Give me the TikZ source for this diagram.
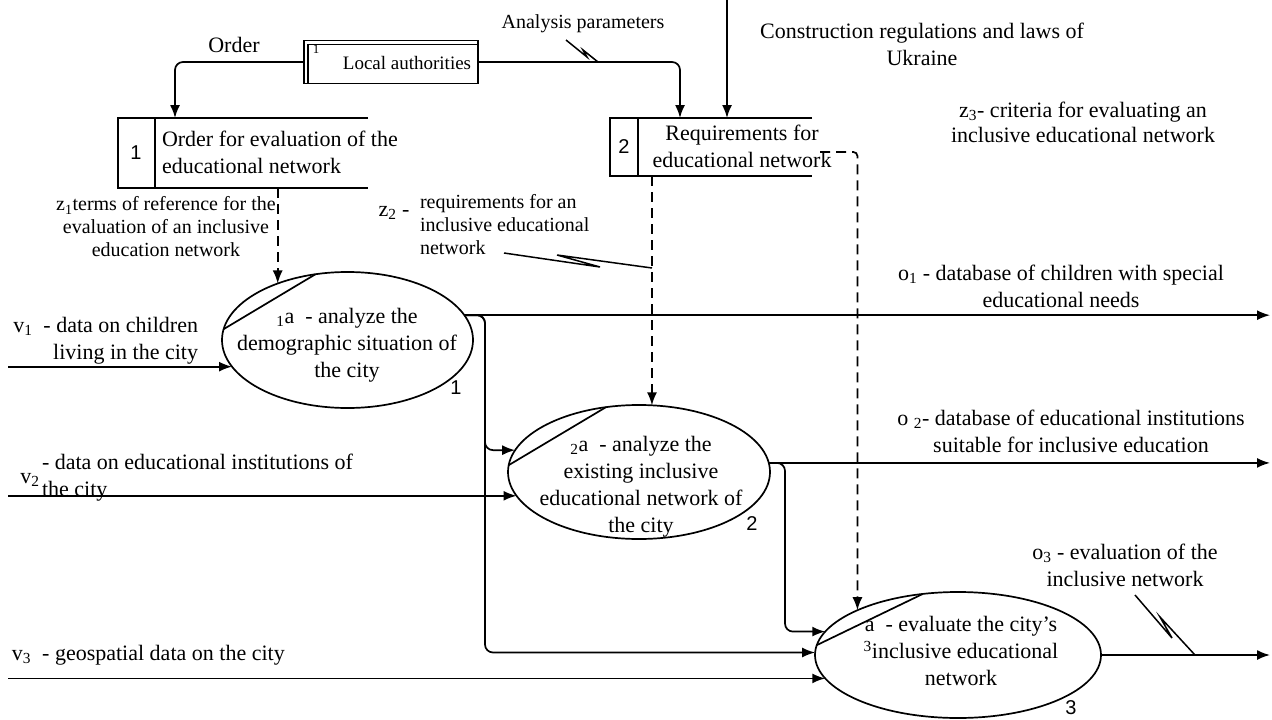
\documentclass[tikz,border=0pt]{standalone}
\usepackage{fontspec}
\setmainfont{Liberation Serif}
\newfontfamily\numfont{Liberation Sans}
\usetikzlibrary{
    arrows.meta,
    positioning,
    calc,
    shapes.geometric
}

\begin{document}
\begin{tikzpicture}[
        x=1pt, y=-1pt,
        every node/.style={inner sep=0pt, outer sep=0pt},
        txt/.style={font=\fontsize{22}{27}\selectfont, align=center},
        note/.style={font=\fontsize{20}{23}\selectfont, align=center},
        num/.style={font=\numfont\fontsize{20}{24}\selectfont},
        proc/.style={ellipse, draw, line width=1.7pt},
        store/.style={rectangle},
        edge/.style={line width=1.7pt},
        flow/.style={-{Latex[length=13pt,width=10pt]}, line width=1.7pt},
        dflow/.style={flow, dash pattern=on 10pt off 6pt},
        bolt/.style={line width=1.5pt, line join=miter}
    ]
        \fill[white] (0,0) rectangle (1272,720);
        \useasboundingbox (0,0) rectangle (1272,720);

        % external entity
        \node[draw, line width=1.7pt, minimum width=174pt, minimum height=43pt] (auth) at (391,62) {};
        \draw[edge] ([xshift=4pt]auth.south west) |- ([yshift=-4pt]auth.north east);
        \node[font=\fontsize{13}{15}\selectfont] (authno) at (316,49) {1};
        \node[note, font=\fontsize{19}{23}\selectfont] (authtxt) at (407,63) {Local authorities};

        % data stores
        \node[store, minimum width=250pt, minimum height=70pt] (st1) at (243,153) {};
        \draw[edge] (st1.north east) -- (st1.north west) -- (st1.south west) -- (st1.south east);
        \draw[edge] ([xshift=37pt]st1.north west) -- ([xshift=37pt]st1.south west);
        \node[num] (st1no) at (136,153) {1};
        \node[txt, align=left, anchor=west] (st1txt) at (162,152) {Order for evaluation of the\\educational network};

        \node[store, minimum width=202pt, minimum height=58pt] (st2) at (711,147) {};
        \draw[edge] (st2.north east) -- (st2.north west) -- (st2.south west) -- (st2.south east);
        \draw[edge] ([xshift=28pt]st2.north west) -- ([xshift=28pt]st2.south west);
        \node[num] (st2no) at (624,147) {2};
        \node[txt] (st2txt) at (742,146) {Requirements for\\educational network};

        % processes
        \node[proc, minimum width=251pt, minimum height=136pt] (p1) at (347.5,340) {};
        \node[proc, minimum width=262pt, minimum height=134pt] (p2) at (639,472) {};
        \node[proc, minimum width=286pt, minimum height=126pt] (p3) at (958,655) {};
        \draw[edge] (p1.175) -- (p1.116);
        \draw[edge] (p2.177) -- (p2.117);
        \draw[edge] (p3.176) -- (p3.120);
        \node[txt] (p1txt) at (347,345) {\textsubscript{1}a\ \ - analyze the\\demographic situation of\\the city};
        \node[txt] (p2txt) at (641,487) {\textsubscript{2}a\ \ - analyze the\\existing inclusive\\educational network of\\the city};
        \node[txt] (p3txt) at (961,651) {a\ \ - evaluate the city's\\\textsuperscript{3}inclusive educational\\network};
        \node[num] (p1no) at (456,388) {1};
        \node[num] (p2no) at (752,524) {2};
        \node[num] (p3no) at (1071,708) {3};

        % labels
        \node[txt] (order) at (234,45) {Order};
        \node[note] (apar) at (583,24) {Analysis parameters};
        \node[txt] (laws) at (922,44) {Construction regulations and laws of\\Ukraine};
        \node[txt, font=\fontsize{22}{25}\selectfont] (z3) at (1083,122) {z\textsubscript{3}- criteria for evaluating an\\inclusive educational network};
        \node[note] (z1) at (166,227) {z\textsubscript{1}terms of reference for the\\evaluation of an inclusive\\education network};
        \node[txt] (z2) at (394,213) {z\textsubscript{2} -};
        \node[note, align=left, anchor=west] (z2txt) at (420,225) {requirements for an\\inclusive educational\\network};
        \node[txt, align=right, anchor=east] (v1) at (198,341) {v\textsubscript{1}\ \ - data on children\\living in the city};
        \node[txt] (v2) at (30,480) {v\textsubscript{2}};
        \node[txt, align=left, anchor=west] (v2txt) at (42,478) {- data on educational institutions of\\the city};
        \node[txt, anchor=west] (v3) at (12,655) {v\textsubscript{3}\ \ - geospatial data on the city};
        \node[txt] (o1) at (1061,286) {o\textsubscript{1} - database of children with special\\educational needs};
        \node[txt] (o2) at (1071,431) {o \textsubscript{2}- database of educational institutions\\suitable for inclusive education};
        \node[txt] (o3) at (1125,565) {o\textsubscript{3} - evaluation of the\\inclusive network};

        % free ends
        \coordinate (lft) at (8,0);
        \coordinate (rim) at (1270,0);
        \coordinate (bus1) at (485,0);
        \coordinate (bus2) at (785,0);
        \coordinate (lawtop) at (727,0);

        % controls
        \draw[flow, rounded corners=8pt] (auth.west) -| ([xshift=57pt]st1.north west);
        \draw[flow, rounded corners=8pt] (auth.east) -| ([xshift=70pt]st2.north west);
        \draw[flow] (lawtop) -- (lawtop |- st2.north);
        \draw[dflow] (st1.south -| p1.141) -- (p1.141);
        \draw[dflow] (st2.south -| p2.79) -- (p2.79);
        \draw[dflow, rounded corners=4pt] ([shift={(8pt,-5pt)}]st2.east) -| (p3.156);

        % inputs
        \draw[flow] (lft |- p1.193) -- (p1.193);
        \draw[flow] (lft |- p2.191) -- (p2.191);
        \draw[flow] (lft |- p3.190) -- (p3.190);

        % outputs
        \draw[flow] (p1.12) -- (p1.12 -| rim);
        \draw[flow] (p2.4) -- (p2.4 -| rim);
        \draw[flow] (p3.east) -- (p3.east -| rim);
        \draw[flow, rounded corners=8pt] (p1.12) -| (bus1 |- p2.170) -- (p2.170);
        \draw[flow, rounded corners=8pt] (p1.12) -| (bus1 |- p3.179) -- (p3.179);
        \draw[flow, rounded corners=8pt] (p2.4) -| (bus2 |- p3.170) -- (p3.170);

        % label leaders
        \draw[bolt] (566,40) -- (587,57) -- (583,50) -- (598,62);
        \draw[bolt] (504,253) -- (600,267) -- (557,255) -- (652,268);
        \draw[bolt] (1135,595) -- (1172,638) -- (1160,617) -- (1195,655);
    \end{tikzpicture}
\end{document}
